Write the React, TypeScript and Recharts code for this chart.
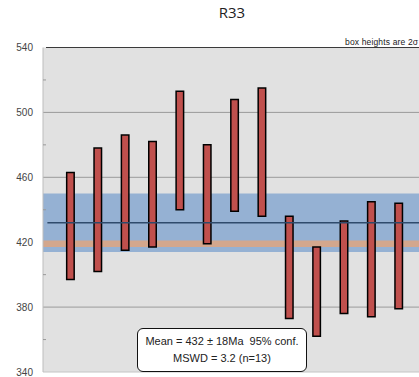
import React from "react";
import {
  ComposedChart,
  Bar,
  XAxis,
  YAxis,
  CartesianGrid,
  ReferenceArea,
  ReferenceLine,
} from "recharts";

// analysis number, 2σ box bottom and top (Ma)
const spots = [1, 2, 3, 4, 5, 6, 7, 8, 9, 10, 11, 12, 13];
const boxLow = [397, 402, 415, 417, 440, 419, 439, 436, 373, 362, 376, 374, 379];
const boxHigh = [463, 478, 486, 482, 513, 480, 508, 515, 436, 417, 433, 445, 444];

const meanAge = 432;
const meanErr = 18;
const refBand = [417, 421];

const yTicks = [340, 360, 380, 400, 420, 440, 460, 480, 500, 520, 540];
const gridValues = [380, 420, 460, 500];

const rows = spots.map((s, i) => ({ spot: s, box: [boxLow[i], boxHigh[i]] }));

// major labels every 40, short inner marks in between
function AgeTick(props: any) {
  const { x, y, payload } = props;
  const v = payload.value as number;
  if ((v - 340) % 40 === 0) {
    return (
      <text
        x={x - 10}
        y={y}
        dy={3.5}
        textAnchor="end"
        fontSize={10}
        fill="#444"
        fontFamily="Liberation Sans, Arial, sans-serif"
      >
        {v}
      </text>
    );
  }
  return <line x1={x} x2={x + 3} y1={y} y2={y} stroke="#999" strokeWidth={1} />;
}

export default function App() {
  return (
    <div
      style={{
        position: "fixed",
        left: 0,
        top: 0,
        width: 419,
        height: 377,
        overflow: "hidden",
        background: "#fff",
      }}
    >
      <div
        style={{
          position: "absolute",
          left: 0,
          width: 464,
          top: 2,
          textAlign: "center",
          fontFamily: "Open Sans, sans-serif",
          fontSize: 15,
          color: "#222",
        }}
      >
        R33
      </div>
      <div
        style={{
          position: "absolute",
          left: 345,
          top: 36.5,
          whiteSpace: "nowrap",
          fontFamily: "Liberation Sans, Arial, sans-serif",
          fontSize: 8.5,
          letterSpacing: 0.15,
          color: "#222",
        }}
      >
        box heights are 2σ
      </div>
      <ComposedChart
        width={428}
        height={377}
        data={rows}
        margin={{ top: 47.5, right: 2, bottom: 0, left: 0 }}
        style={{ position: "absolute", left: 0, top: 0 }}
      >
        <CartesianGrid
          vertical={false}
          horizontalValues={gridValues}
          stroke="#9a9a9a"
          fill="#e1e1e1"
        />
        <XAxis
          dataKey="spot"
          type="number"
          domain={[0, 14]}
          tick={false}
          tickLine={false}
          axisLine={{ stroke: "#c4c4c4" }}
          height={5}
        />
        <YAxis
          type="number"
          domain={[340, 540]}
          ticks={yTicks}
          interval={0}
          width={43}
          tickSize={0}
          tickMargin={0}
          tickLine={false}
          axisLine={{ stroke: "#bdbdbd" }}
          tick={<AgeTick />}
        />
        <ReferenceArea
          y1={meanAge - meanErr}
          y2={meanAge + meanErr}
          fill="#95b1d3"
          fillOpacity={1}
          stroke="none"
        />
        <ReferenceArea
          y1={refBand[0]}
          y2={refBand[1]}
          fill="#d3a78d"
          fillOpacity={1}
          stroke="none"
        />
        <ReferenceLine
          segment={[
            { x: 0.16, y: meanAge },
            { x: 14, y: meanAge },
          ]}
          stroke="#2f4b6c"
          strokeWidth={1.6}
        />
        <ReferenceLine
          segment={[
            { x: 0.11, y: 540 },
            { x: 14, y: 540 },
          ]}
          stroke="#3a3a3a"
          strokeWidth={1.2}
        />
        <Bar
          dataKey="box"
          barSize={7.5}
          fill="#c0504d"
          stroke="#000"
          strokeWidth={1.5}
          isAnimationActive={false}
        />
      </ComposedChart>
      <div
        style={{
          position: "absolute",
          left: 137,
          top: 328,
          width: 168,
          height: 38,
          border: "1.5px solid #111",
          borderRadius: 6,
          background: "#fff",
          fontFamily: "Liberation Sans, Arial, sans-serif",
          fontSize: 11,
          color: "#222",
          textAlign: "center",
          lineHeight: "16.5px",
          paddingTop: 4,
          boxSizing: "content-box",
          whiteSpace: "pre",
        }}
      >
        {"Mean = 432 ± 18Ma  95% conf.\nMSWD = 3.2 (n=13)"}
      </div>
    </div>
  );
}
